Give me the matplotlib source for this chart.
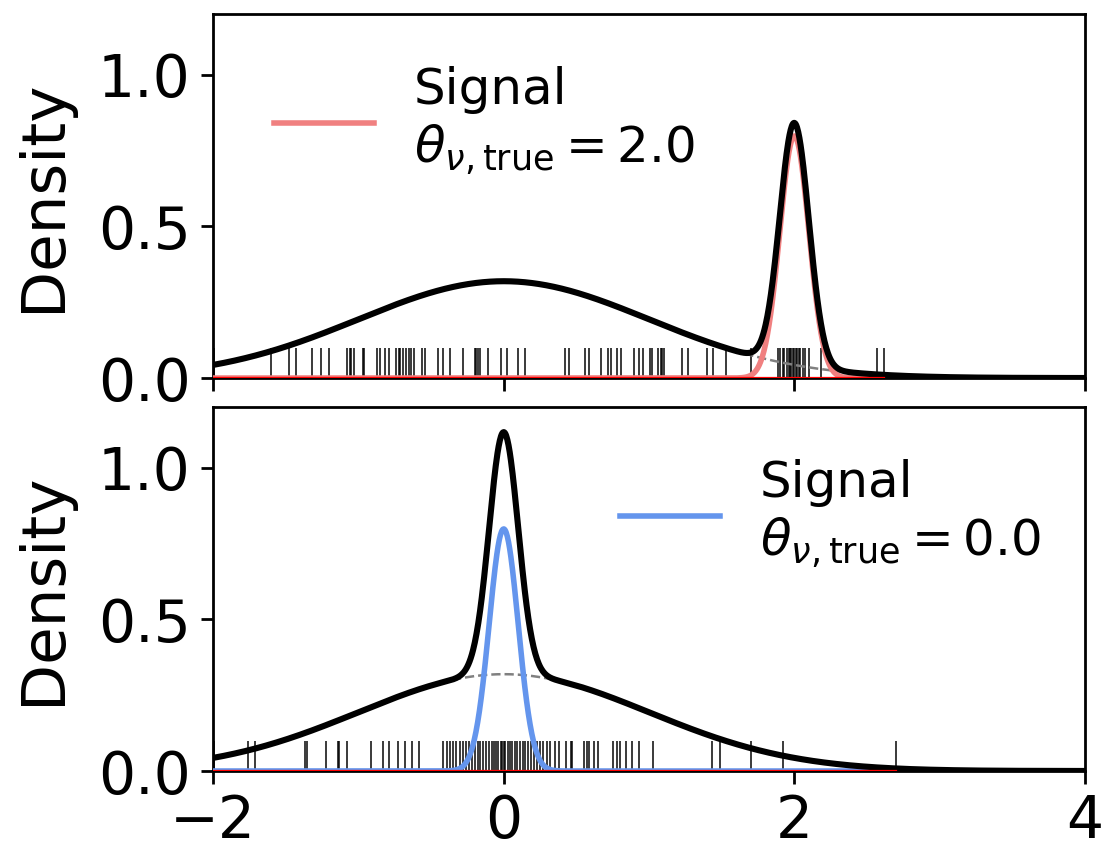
import numpy as np
import matplotlib
matplotlib.use("Agg")
import matplotlib.pyplot as plt

# mixture: 0.8 * N(0, 1) background + 0.2 * N(theta, 0.1) signal
bkg_weight = 0.8
sig_weight = 0.2
bkg_sigma = 1.0
sig_sigma = 0.1
theta_top = 2.0
theta_bottom = 0.0

# sample positions
samples_top = [-1.99, -1.60, -1.48, -1.43, -1.32, -1.26, -1.20, -1.08, -1.06, -1.05,
               -1.03, -0.97, -0.96, -0.87, -0.85, -0.82, -0.79, -0.74, -0.72, -0.71,
               -0.69, -0.67, -0.65, -0.64, -0.62, -0.56, -0.54, -0.45, -0.42, -0.37,
               -0.28, -0.20, -0.19, -0.18, -0.16, -0.11, -0.02, 0.02, 0.10, 0.15,
               0.42, 0.45, 0.56, 0.59, 0.67, 0.72, 0.74, 0.78, 0.81, 0.90,
               0.93, 0.96, 1.01, 1.02, 1.06, 1.08, 1.09, 1.10, 1.23, 1.27,
               1.40, 1.44, 1.53, 1.70,
               1.89, 1.90, 1.92, 1.93, 1.95, 1.96, 1.97, 1.98, 1.99, 2.00,
               2.01, 2.02, 2.03, 2.04, 2.06, 2.07, 2.10, 2.18, 2.57, 2.62]

samples_bottom = [-1.99, -1.76, -1.71, -1.37, -1.35, -1.22, -1.14, -1.13, -1.08, -0.91,
                  -0.83, -0.79, -0.73, -0.68, -0.63, -0.58, -0.42, -0.39,
                  -0.37, -0.35, -0.33, -0.30, -0.28, -0.26, -0.24, -0.22, -0.20, -0.18,
                  -0.16, -0.14, -0.12, -0.10, -0.08, -0.07, -0.05, -0.04, -0.02, -0.01,
                  0.00, 0.01, 0.03, 0.04, 0.06, 0.08, 0.09, 0.11, 0.13, 0.15,
                  0.17, 0.19, 0.21, 0.23, 0.25, 0.27, 0.30, 0.32, 0.35, 0.38,
                  0.43, 0.46, 0.47, 0.55, 0.57, 0.59, 0.62, 0.65, 0.75, 0.78,
                  0.80, 0.84, 0.88, 0.93, 1.03, 1.43, 1.49, 1.70, 1.92, 2.70]


def normal(x, mu, s):
    return np.exp(-0.5 * ((x - mu) / s) ** 2) / (np.sqrt(2 * np.pi) * s)


x = np.linspace(-2, 4, 1500)

fig = plt.figure(figsize=(5.51, 4.24), dpi=200)
ax1 = fig.add_axes([0.1933, 0.5542, 0.7913, 0.4293])
ax2 = fig.add_axes([0.1933, 0.0908, 0.7913, 0.4293], sharex=ax1)

panels = [(ax1, theta_top, samples_top, 'lightcoral', (0.018, 0.98)),
          (ax2, theta_bottom, samples_bottom, 'cornflowerblue', (0.415, 0.98))]

for ax, theta, samples, col, anchor in panels:
    bkg = bkg_weight * normal(x, 0, bkg_sigma)
    sig = sig_weight * normal(x, theta, sig_sigma)
    ax.plot(x, bkg, color='gray', ls='--', lw=0.9, zorder=2)
    ax.plot(x, sig, color=col, lw=2.0, zorder=3,
            label='Signal\n$\\theta_{\\nu,\\mathrm{true}} = %.1f$' % theta)
    ax.plot(x, bkg + sig, color='k', lw=2.2, zorder=4)
    ax.vlines(samples, 0, 0.1, color='k', lw=0.6, alpha=0.9, zorder=1)
    ax.plot([min(samples), max(samples)], [0, 0], color='red', lw=0.8, zorder=5)
    ax.set_xlim(-2, 4)
    ax.set_ylim(0, 1.2)
    ax.set_yticks([0.0, 0.5, 1.0])
    ax.set_ylabel('Density', fontsize=22, labelpad=9)
    ax.tick_params(labelsize=21, length=4.5, width=1)
    for sp in ax.spines.values():
        sp.set_linewidth(1)
    ax.legend(loc='upper left', bbox_to_anchor=anchor, frameon=False, fontsize=18)

plt.setp(ax1.get_xticklabels(), visible=False)
ax2.set_xticks([-2, 0, 2, 4])

plt.savefig('out.png', dpi=200)
